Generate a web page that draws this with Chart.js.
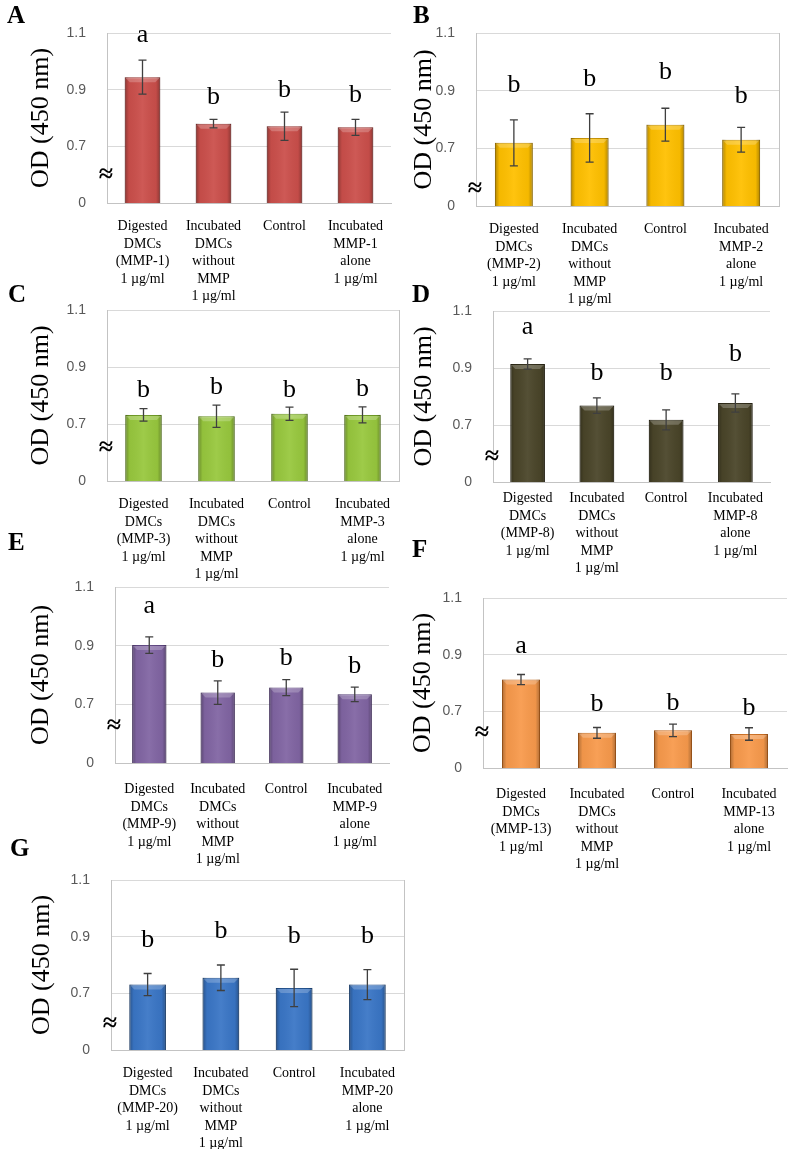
<!DOCTYPE html>
<html>
<head>
<meta charset="utf-8">
<script src="https://cdn.jsdelivr.net/npm/chart.js@4/dist/chart.umd.min.js"></script>
<style>
  html, body { margin: 0; padding: 0; background: #fff; }
  body { position: relative; width: 788px; height: 1149px; overflow: hidden; }
  canvas { position: absolute; }
</style>
</head>
<body>
<script>
// MMP used in each panel
const mmpNames = ['MMP-1', 'MMP-2', 'MMP-3', 'MMP-8', 'MMP-9', 'MMP-13', 'MMP-20'];
const panelLetters = ['A', 'B', 'C', 'D', 'E', 'F', 'G'];

// y axis: broken axis, bottom tick is shown as "0"
const yTickValues = [0.5, 0.7, 0.9, 1.1];
const yTickLabels = ['0', '0.7', '0.9', '1.1'];

// OD means, error (SD) and significance letters, one array per panel
const meansA = [0.944, 0.780, 0.771, 0.767];
const errA   = [0.060, 0.015, 0.050, 0.028];
const sigA   = ['a', 'b', 'b', 'b'];
const sigPosA = [1.069, 0.851, 0.875, 0.855];

const meansB = [0.719, 0.736, 0.782, 0.730];
const errB   = [0.080, 0.084, 0.057, 0.043];
const sigB   = ['b', 'b', 'b', 'b'];
const sigPosB = [0.894, 0.917, 0.940, 0.856];

const meansC = [0.732, 0.727, 0.736, 0.732];
const errC   = [0.022, 0.039, 0.023, 0.028];
const sigC   = ['b', 'b', 'b', 'b'];
const sigPosC = [0.794, 0.806, 0.796, 0.798];

const meansD = [0.914, 0.768, 0.718, 0.777];
const errD   = [0.018, 0.027, 0.035, 0.032];
const sigD   = ['a', 'b', 'b', 'b'];
const sigPosD = [1.021, 0.859, 0.859, 0.923];

const meansE = [0.902, 0.740, 0.757, 0.734];
const errE   = [0.028, 0.040, 0.027, 0.025];
const sigE   = ['a', 'b', 'b', 'b'];
const sigPosE = [1.012, 0.827, 0.833, 0.808];

const meansF = [0.812, 0.624, 0.633, 0.620];
const errF   = [0.018, 0.019, 0.022, 0.022];
const sigF   = ['a', 'b', 'b', 'b'];
const sigPosF = [0.906, 0.700, 0.703, 0.688];

const meansG = [0.731, 0.755, 0.719, 0.731];
const errG   = [0.039, 0.045, 0.066, 0.053];
const sigG   = ['b', 'b', 'b', 'b'];
const sigPosG = [0.862, 0.897, 0.879, 0.879];

const allMeans = [meansA, meansB, meansC, meansD, meansE, meansF, meansG];
const allErr = [errA, errB, errC, errD, errE, errF, errG];
const allSig = [sigA, sigB, sigC, sigD, sigE, sigF, sigG];
const allSigPos = [sigPosA, sigPosB, sigPosC, sigPosD, sigPosE, sigPosF, sigPosG];

function categoryLabels(mmp) {
    return [
        ['Digested', 'DMCs', '(' + mmp + ')', '1 µg/ml'],
        ['Incubated', 'DMCs', 'without', 'MMP', '1 µg/ml'],
        ['Control'],
        ['Incubated', mmp, 'alone', '1 µg/ml']
    ];
}

// colours of the bars (fill, outline)
const barFill = ['#cb4f4b', '#ffc000', '#98c83e', '#4a4529', '#8165a3', '#f89a4c', '#3a76c6'];
const barEdge = ['#9a3532', '#c79200', '#6f9a25', '#2e2a17', '#5d4580', '#cc6f22', '#22528f'];

// page layout of each panel: canvas origin, plot box [left, right, top, bottom]
const layouts = [
    { cx: 0,   cy: 0,   plot: [107, 391, 33, 203],   letter: [7, 23],    titleX: 41,  breakY: 0.597, box: false, xPad: 7 },
    { cx: 394, cy: 0,   plot: [476, 779, 33, 206],   letter: [413, 23],  titleX: 424, breakY: 0.559, box: true,  xPad: 7 },
    { cx: 0,   cy: 265, plot: [107, 399, 310, 481],  letter: [8, 302],   titleX: 41,  breakY: 0.616, box: true,  xPad: 7 },
    { cx: 394, cy: 265, plot: [493, 770, 311, 482],  letter: [412, 302], titleX: 424, breakY: 0.588, box: false, xPad: 0 },
    { cx: 0,   cy: 520, plot: [115, 389, 587, 763],  letter: [8, 550],   titleX: 41,  breakY: 0.626, box: false, xPad: 10 },
    { cx: 394, cy: 520, plot: [483, 787, 598, 768],  letter: [412, 557], titleX: 423, breakY: 0.624, box: false, xPad: 10 },
    { cx: 0,   cy: 820, plot: [111, 404, 880, 1050], letter: [10, 856],  titleX: 42,  breakY: 0.592, box: true,  xPad: 7 }
];

const X_AXIS_H = 118;
const serif = '"Liberation Serif", "Times New Roman", serif';

// draws bevel shading, error bars, letters, axis break and panel letter
const panelDeco = {
    id: 'panelDeco',
    afterDatasetsDraw(chart, args, opts) {
        const ctx = chart.ctx;
        const yScale = chart.scales.y;
        const area = chart.chartArea;
        const meta = chart.getDatasetMeta(0);

        ctx.save();
        meta.data.forEach((bar, i) => {
            const p = bar.getProps(['x', 'y', 'base', 'width'], true);
            const l = p.x - p.width / 2;
            const bottom = Math.min(p.base, area.bottom);
            const g = ctx.createLinearGradient(l, 0, l + p.width, 0);
            g.addColorStop(0, 'rgba(0,0,0,0.30)');
            g.addColorStop(0.12, 'rgba(0,0,0,0.04)');
            g.addColorStop(0.5, 'rgba(255,255,255,0.06)');
            g.addColorStop(0.88, 'rgba(0,0,0,0.04)');
            g.addColorStop(1, 'rgba(0,0,0,0.30)');
            ctx.fillStyle = g;
            ctx.fillRect(l, p.y, p.width, bottom - p.y);
            ctx.fillStyle = 'rgba(255,255,255,0.22)';
            ctx.beginPath();
            ctx.moveTo(l + 1, p.y + 1);
            ctx.lineTo(l + p.width - 1, p.y + 1);
            ctx.lineTo(l + p.width - 5, p.y + 5);
            ctx.lineTo(l + 5, p.y + 5);
            ctx.closePath();
            ctx.fill();

            // error bar
            const m = opts.means[i], e = opts.err[i];
            const yHi = yScale.getPixelForValue(m + e);
            const yLo = yScale.getPixelForValue(m - e);
            ctx.strokeStyle = '#3f3f3f';
            ctx.lineWidth = 1.3;
            ctx.beginPath();
            ctx.moveTo(p.x, yHi); ctx.lineTo(p.x, yLo);
            ctx.moveTo(p.x - 4, yHi); ctx.lineTo(p.x + 4, yHi);
            ctx.moveTo(p.x - 4, yLo); ctx.lineTo(p.x + 4, yLo);
            ctx.stroke();

            // significance letter
            ctx.fillStyle = '#000';
            ctx.font = '26px ' + serif;
            ctx.textAlign = 'center';
            ctx.textBaseline = 'alphabetic';
            ctx.fillText(opts.sig[i], p.x, yScale.getPixelForValue(opts.sigPos[i]));
        });

        if (opts.box) {
            ctx.strokeStyle = '#c3c3c3';
            ctx.lineWidth = 1;
            ctx.beginPath();
            ctx.moveTo(Math.round(area.right) + 0.5, area.top);
            ctx.lineTo(Math.round(area.right) + 0.5, area.bottom);
            ctx.stroke();
        }

        // axis break mark
        ctx.fillStyle = '#000';
        ctx.font = 'bold 26px ' + serif;
        ctx.textAlign = 'center';
        ctx.textBaseline = 'middle';
        ctx.fillText('≈', area.left - 1, yScale.getPixelForValue(opts.breakY));

        // panel letter
        ctx.font = 'bold 25px ' + serif;
        ctx.textAlign = 'left';
        ctx.textBaseline = 'alphabetic';
        ctx.fillText(opts.letter, opts.letterX, opts.letterY);
        ctx.restore();
    }
};

function makePanel(i) {
    const lay = layouts[i];
    const [L, R, T, B] = lay.plot;
    const w = Math.min(788, R + 8) - lay.cx;
    const h = B + X_AXIS_H - lay.cy;

    const canvas = document.createElement('canvas');
    canvas.width = w;
    canvas.height = h;
    canvas.style.left = lay.cx + 'px';
    canvas.style.top = lay.cy + 'px';
    document.body.appendChild(canvas);

    new Chart(canvas, {
        type: 'bar',
        data: {
            labels: categoryLabels(mmpNames[i]),
            datasets: [{
                data: allMeans[i],
                backgroundColor: barFill[i],
                borderColor: barEdge[i],
                borderWidth: 1,
                barPercentage: 1,
                categoryPercentage: 0.5
            }]
        },
        options: {
            responsive: false,
            animation: false,
            devicePixelRatio: 1,
            layout: {
                padding: { left: 0, right: lay.cx + w - R, top: T - lay.cy, bottom: 0 }
            },
            plugins: {
                legend: { display: false },
                tooltip: { enabled: false },
                panelDeco: {
                    means: allMeans[i],
                    err: allErr[i],
                    sig: allSig[i],
                    sigPos: allSigPos[i],
                    box: lay.box,
                    breakY: lay.breakY,
                    letter: panelLetters[i],
                    letterX: lay.letter[0] - lay.cx,
                    letterY: lay.letter[1] - lay.cy
                }
            },
            scales: {
                x: {
                    grid: { display: false },
                    border: { display: true, color: '#c3c3c3' },
                    ticks: {
                        autoSkip: false,
                        maxRotation: 0,
                        minRotation: 0,
                        padding: lay.xPad,
                        color: '#000',
                        font: { family: serif, size: 14, lineHeight: 1.25 }
                    },
                    afterFit: (s) => { s.height = X_AXIS_H; }
                },
                y: {
                    min: 0.5,
                    max: 1.1,
                    afterBuildTicks: (s) => { s.ticks = yTickValues.map(v => ({ value: v })); },
                    grid: { color: '#d9d9d9', drawTicks: false },
                    border: { display: true, color: '#c3c3c3' },
                    ticks: {
                        padding: 21,
                        color: '#595959',
                        font: { family: '"Liberation Sans", Arial, sans-serif', size: 14 },
                        callback: (v, idx) => yTickLabels[idx]
                    },
                    title: {
                        display: true,
                        text: 'OD (450 nm)',
                        color: '#000',
                        font: { family: serif, size: 26, lineHeight: 1.2 },
                        padding: { top: lay.titleX - lay.cx - 15.6, bottom: 0 }
                    },
                    afterFit: (s) => { s.width = L - lay.cx; }
                }
            }
        },
        plugins: [panelDeco]
    });
}

document.addEventListener('DOMContentLoaded', () => {
    for (let i = 0; i < layouts.length; i++) {
        makePanel(i);
    }
});
</script>
</body>
</html>
